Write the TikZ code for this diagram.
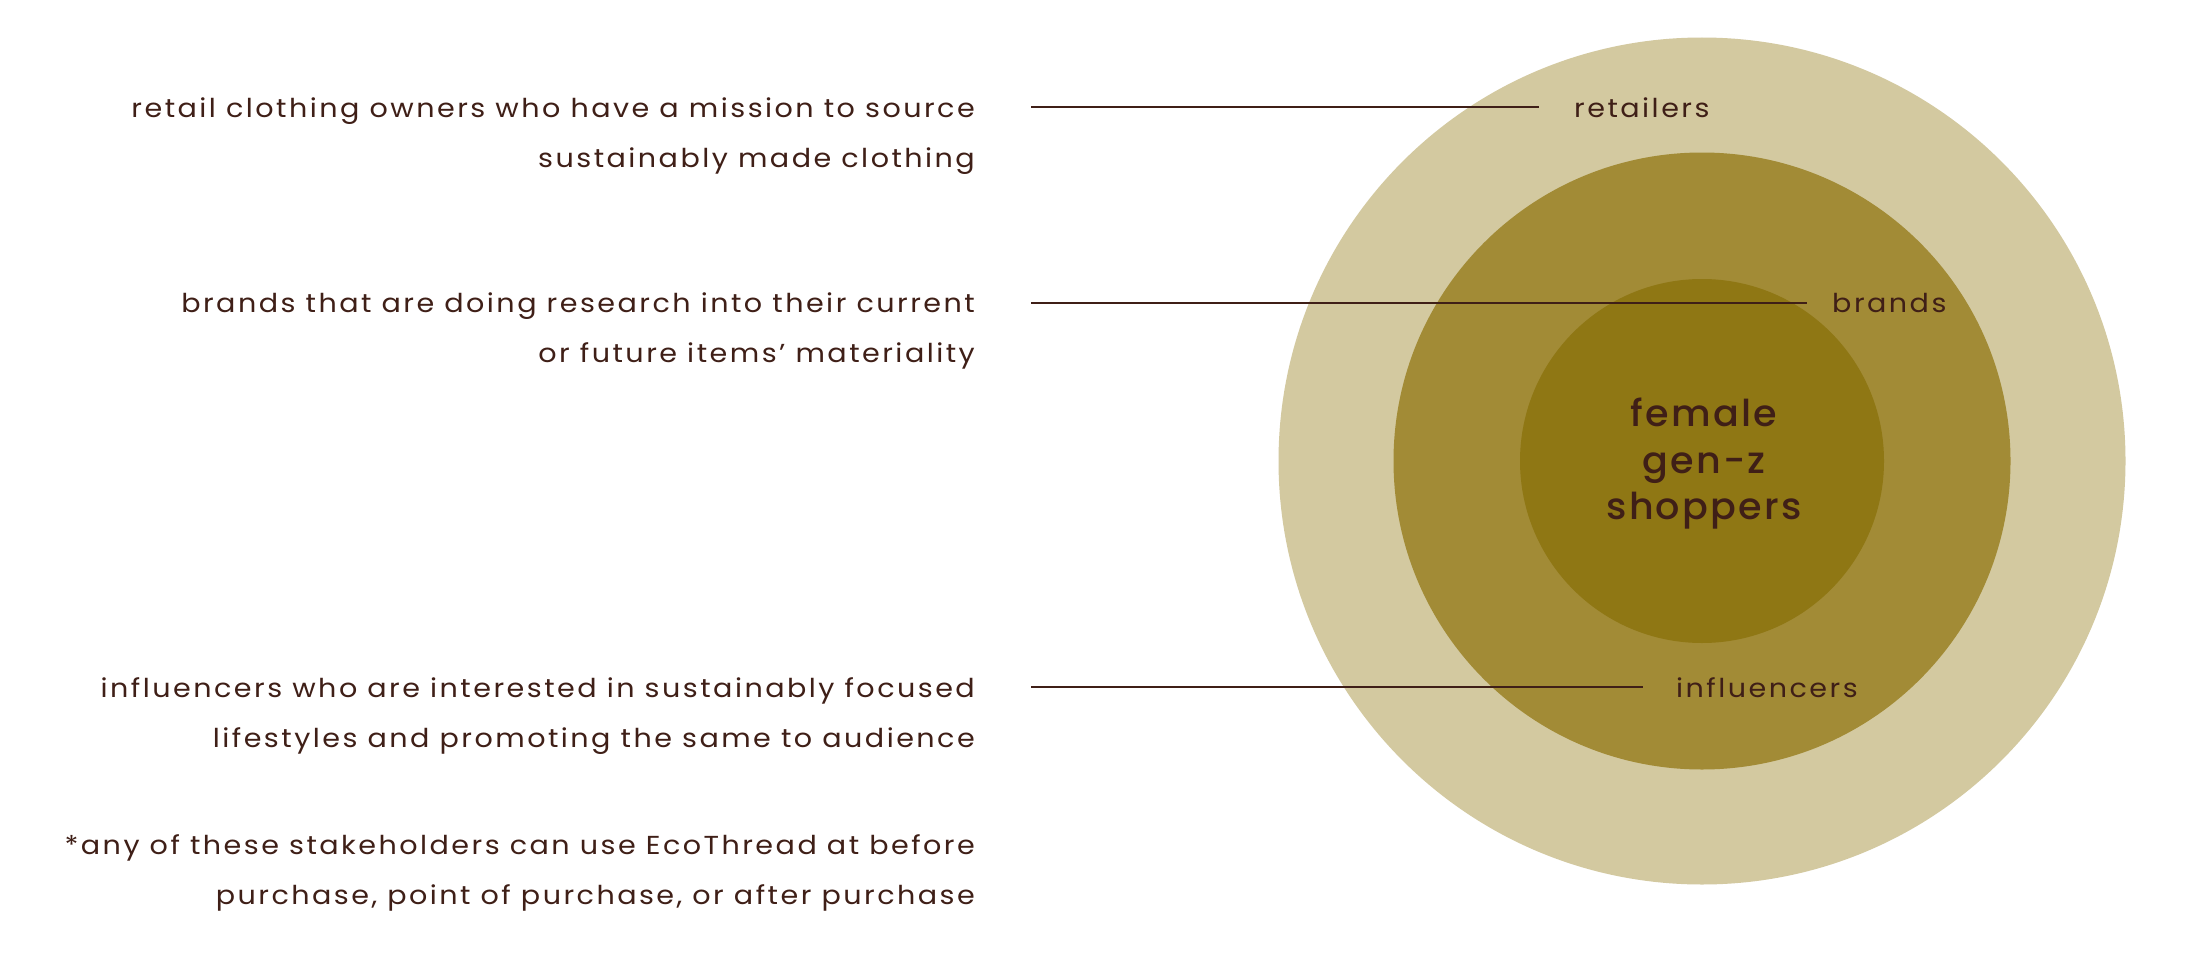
\documentclass[tikz,border=0pt]{standalone}
\usepackage{fontspec}
\setmainfont{Poppins}[LetterSpace=9.5,FakeStretch=1.1]
\newfontfamily\medfont{Poppins Medium}[LetterSpace=6,FakeStretch=1.03]
\definecolor{txt}{HTML}{3F1F17}
\definecolor{outerc}{HTML}{D3C9A0}
\definecolor{midc}{HTML}{A28B36}
\definecolor{innerc}{HTML}{8F7714}
\begin{document}
\begin{tikzpicture}[x=1pt,y=-1pt,
  desc/.style={anchor=base east,inner sep=0pt,text=txt,font=\fontsize{26}{30}\selectfont},
  lab/.style={anchor=base west,inner sep=0pt,text=txt,font=\fontsize{26}{30}\selectfont},
  conn/.style={draw=txt,line width=2pt},
  ctr/.style={inner sep=0pt,text=txt,align=center,font=\medfont\fontsize{37}{46.5}\selectfont}]
\useasboundingbox[fill=white] (0,0) rectangle (2203,958);
% circles
\fill[outerc] (1702,461) circle (423.5);
\fill[midc] (1702,461) circle (308.5);
\fill[innerc] (1702,461) circle (182);
\node[ctr] (core) at (1704,464) {female\\gen-z\\shoppers};
% left descriptions
\node[desc] (d1a) at (975,117) {retail clothing owners who have a mission to source};
\node[desc] (d1b) at (975,167) {sustainably made clothing};
\node[desc] (d2a) at (975,312) {brands that are doing research into their current};
\node[desc] (d2b) at (975,362) {or future items’ materiality};
\node[desc] (d3a) at (975,697) {influencers who are interested in sustainably focused};
\node[desc] (d3b) at (975,747) {lifestyles and promoting the same to audience};
\node[desc] (d4a) at (975,854) {*any of these stakeholders can use EcoThread at before};
\node[desc] (d4b) at (975,904) {purchase, point of purchase, or after purchase};
% right labels
\node[lab] (retailers) at (1574,117) {retailers};
\node[lab] (brands) at (1832,312) {brands};
\node[lab] (influencers) at (1676,697) {influencers};
% connectors
\coordinate (c1) at (1031,107);
\coordinate (c2) at (1031,303);
\coordinate (c3) at (1031,687);
\draw[conn] (c1) -- ([xshift=-35pt]retailers.west |- c1);
\draw[conn] (c2) -- ([xshift=-25pt]brands.west |- c2);
\draw[conn] (c3) -- ([xshift=-33pt]influencers.west |- c3);
\end{tikzpicture}
\end{document}
